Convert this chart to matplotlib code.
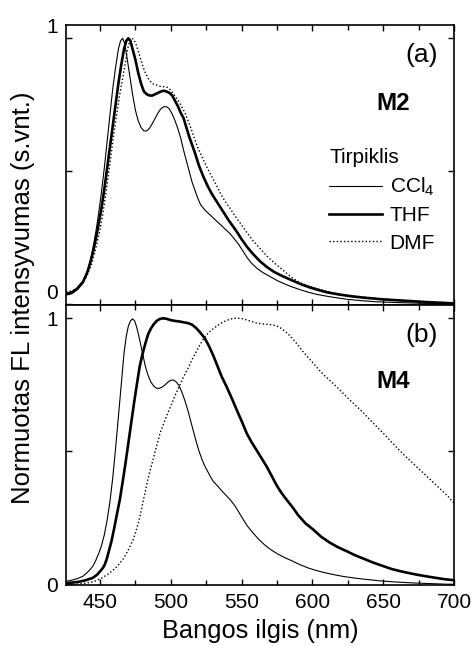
import matplotlib
matplotlib.use("Agg")
import matplotlib.pyplot as plt
import matplotlib.transforms as mtransforms
from matplotlib.ticker import MultipleLocator, FixedLocator

plt.rcParams['font.family'] = ['Liberation Sans', 'DejaVu Sans']
plt.rcParams['mathtext.fontset'] = 'custom'
plt.rcParams['mathtext.rm'] = 'Liberation Sans'
plt.rcParams['mathtext.it'] = 'Liberation Sans:italic'

# (a) M2 spectra, wavelength in nm
m2_ccl4_wl = [426, 430, 434, 438, 441, 443, 445, 447, 449, 451, 453, 455, 457, 459, 461, 463, 464.5, 466,
              467.5, 469, 471, 473, 475, 477, 479, 481, 483, 485, 487, 489, 491, 493, 495, 497, 499, 501,
              503, 505, 507, 509, 511, 513, 515, 517, 519, 521, 524, 527, 530, 533, 536, 539, 542, 545,
              548, 551, 554, 557, 561, 565, 570, 575, 580, 585, 591, 597, 603, 610, 617, 625, 635, 645,
              660, 680, 700]
m2_ccl4 = [0.035, 0.04, 0.055, 0.08, 0.12, 0.16, 0.21, 0.27, 0.34, 0.42, 0.51, 0.61, 0.71, 0.81, 0.89, 0.96,
           0.99, 1.0, 0.98, 0.93, 0.86, 0.79, 0.73, 0.69, 0.665, 0.652, 0.652, 0.662, 0.68, 0.70, 0.72, 0.735,
           0.743, 0.743, 0.735, 0.715, 0.69, 0.66, 0.625, 0.58, 0.54, 0.50, 0.46, 0.43, 0.40, 0.375, 0.355,
           0.34, 0.325, 0.31, 0.295, 0.28, 0.265, 0.245, 0.225, 0.20, 0.175, 0.155, 0.135, 0.12, 0.105, 0.09,
           0.078, 0.067, 0.056, 0.046, 0.038, 0.031, 0.025, 0.019, 0.014, 0.01, 0.007, 0.004, 0.002]

m2_thf_wl = [426, 430, 434, 438, 441, 443, 445, 447, 449, 451, 453, 455, 457, 459, 461, 463, 465, 467,
             468.5, 470, 471.5, 473, 475, 477, 479, 481, 483, 485, 487, 489, 491, 493, 495, 497, 499, 501,
             503, 505, 507, 509, 511, 513, 515, 517, 520, 523, 526, 529, 532, 535, 538, 541, 544, 547, 550,
             554, 558, 563, 568, 573, 579, 585, 591, 597, 603, 610, 618, 627, 637, 650, 662, 680, 700]
m2_thf = [0.04, 0.045, 0.06, 0.085, 0.12, 0.155, 0.195, 0.245, 0.30, 0.36, 0.43, 0.51, 0.59, 0.67, 0.75, 0.83,
          0.90, 0.96, 0.99, 1.0, 0.99, 0.96, 0.92, 0.87, 0.83, 0.80, 0.79, 0.785, 0.785, 0.79, 0.795, 0.80,
          0.803, 0.80, 0.795, 0.785, 0.765, 0.745, 0.72, 0.70, 0.665, 0.63, 0.60, 0.57, 0.52, 0.48, 0.445,
          0.415, 0.39, 0.365, 0.34, 0.315, 0.293, 0.27, 0.245, 0.215, 0.19, 0.162, 0.14, 0.122, 0.106, 0.092,
          0.078, 0.066, 0.056, 0.046, 0.038, 0.031, 0.025, 0.019, 0.015, 0.009, 0.004]

m2_dmf_wl = [426, 430, 434, 438, 441, 444, 447, 450, 452, 454, 456, 458, 460, 462, 464, 466, 468, 469.5,
             471, 472.5, 474, 476, 478, 480, 482, 484, 486, 488, 490, 492, 494, 496, 498, 500, 502, 504, 506,
             508, 510, 513, 516, 519, 523, 526, 529, 532, 535, 538, 542, 545, 549, 553, 558, 563, 568, 574,
             580, 585, 591, 597, 603, 609, 615, 623, 632, 641, 650, 660, 670, 685, 700]
m2_dmf = [0.05, 0.05, 0.06, 0.08, 0.11, 0.15, 0.21, 0.28, 0.34, 0.41, 0.49, 0.57, 0.65, 0.72, 0.79, 0.85,
          0.91, 0.96, 0.99, 1.0, 0.995, 0.97, 0.935, 0.90, 0.87, 0.85, 0.835, 0.827, 0.824, 0.82, 0.818, 0.818,
          0.815, 0.805, 0.79, 0.775, 0.76, 0.74, 0.72, 0.68, 0.635, 0.59, 0.543, 0.51, 0.48, 0.45, 0.418, 0.39,
          0.36, 0.335, 0.306, 0.275, 0.24, 0.21, 0.181, 0.152, 0.125, 0.103, 0.082, 0.07, 0.06, 0.051, 0.043,
          0.036, 0.03, 0.025, 0.02, 0.016, 0.012, 0.008, 0.004]

# (b) M4 spectra
m4_ccl4_wl = [426, 430, 434, 438, 441, 443, 445, 447, 449, 451, 453, 455, 457, 459, 461, 462.5, 464,
              465.5, 467, 468.5, 470, 471.5, 473, 474.5, 476, 478, 480, 482, 484, 486, 488, 490, 492, 494,
              496, 498, 500, 502, 504, 506, 508, 510, 512, 514, 516, 518, 520, 522, 524, 526, 528, 530, 533,
              536, 539, 542, 545, 548, 551, 554, 558, 562, 566, 570, 575, 580, 585, 591, 597, 603, 609, 615,
              622, 630, 638, 647, 657, 670, 685, 700]
m4_ccl4 = [0.012, 0.016, 0.022, 0.031, 0.045, 0.056, 0.069, 0.09, 0.115, 0.145, 0.185, 0.24, 0.31, 0.40, 0.51,
           0.60, 0.69, 0.78, 0.87, 0.93, 0.97, 0.99, 0.998, 0.99, 0.965, 0.92, 0.87, 0.82, 0.785, 0.76, 0.745,
           0.737, 0.737, 0.742, 0.75, 0.76, 0.767, 0.768, 0.76, 0.745, 0.72, 0.69, 0.655, 0.615, 0.575, 0.535,
           0.50, 0.47, 0.445, 0.425, 0.405, 0.387, 0.37, 0.352, 0.335, 0.318, 0.298, 0.272, 0.245, 0.22, 0.194,
           0.17, 0.15, 0.133, 0.116, 0.102, 0.09, 0.075, 0.062, 0.052, 0.044, 0.037, 0.03, 0.024, 0.019, 0.014,
           0.01, 0.006, 0.003, 0.0]

m4_thf_wl = [426, 430, 435, 440, 445, 448, 451, 453, 454.7, 456.5, 458, 460, 462, 464, 466, 468, 470,
             472, 474, 476, 478, 480, 482, 484, 486, 488, 490, 492, 494.5, 497, 500, 503, 506, 509, 512,
             515, 518, 521, 524, 527, 530, 533, 536, 539.4, 543, 547, 550.5, 553.6, 557, 560.5, 564, 567.7,
             571, 575, 578, 581.8, 586, 590, 595, 600.6, 606, 612, 618, 624.2, 630, 637, 643, 650, 656, 662,
             668, 673.6, 680, 687, 693, 700]
m4_thf = [0.005, 0.007, 0.01, 0.016, 0.025, 0.037, 0.055, 0.07, 0.094, 0.13, 0.16, 0.21, 0.265, 0.318, 0.385,
          0.455, 0.53, 0.605, 0.68, 0.75, 0.818, 0.865, 0.905, 0.94, 0.962, 0.978, 0.99, 0.997, 1.0, 0.998,
          0.993, 0.99, 0.988, 0.985, 0.982, 0.976, 0.963, 0.945, 0.925, 0.895, 0.86, 0.82, 0.78, 0.743, 0.70,
          0.65, 0.608, 0.568, 0.535, 0.505, 0.475, 0.443, 0.41, 0.37, 0.345, 0.318, 0.29, 0.26, 0.23, 0.206,
          0.18, 0.158, 0.14, 0.125, 0.11, 0.095, 0.082, 0.069, 0.058, 0.05, 0.043, 0.037, 0.031, 0.025, 0.02,
          0.016]

m4_dmf_wl = [426, 435, 440, 445, 450, 453, 456, 459, 461.8, 464, 467, 470, 473.5, 476, 478, 480, 482,
             484, 486, 488, 490, 492.4, 495, 497, 500, 503, 506, 509, 512, 515, 518, 521, 524, 527, 530,
             533, 536, 539, 542, 545, 548, 551, 554, 557, 560, 563, 566, 569, 572, 575, 578, 581, 584, 587,
             590, 593, 596, 600, 604, 608, 612, 616, 620, 625, 630, 635, 640, 645, 650, 655, 660, 665, 670,
             675, 680, 685, 690, 695, 700]
m4_dmf = [0.0, 0.002, 0.005, 0.01, 0.02, 0.03, 0.04, 0.053, 0.066, 0.08, 0.1, 0.13, 0.169, 0.21, 0.25, 0.3,
          0.35, 0.40, 0.44, 0.48, 0.52, 0.568, 0.605, 0.632, 0.67, 0.71, 0.745, 0.78, 0.81, 0.845, 0.875, 0.905,
          0.93, 0.948, 0.961, 0.973, 0.983, 0.991, 0.997, 1.0, 1.0, 0.998, 0.993, 0.988, 0.983, 0.98, 0.978,
          0.977, 0.975, 0.97, 0.962, 0.95, 0.935, 0.917, 0.898, 0.877, 0.858, 0.835, 0.81, 0.787, 0.768, 0.748,
          0.727, 0.70, 0.675, 0.65, 0.622, 0.595, 0.568, 0.54, 0.512, 0.485, 0.46, 0.435, 0.41, 0.385, 0.36,
          0.335, 0.305]

panel_labels = ['(a)', '(b)']
molecules = ['M2', 'M4']
solvents = ['CCl$_4$', 'THF', 'DMF']
x_ticks = [450, 500, 550, 600, 650, 700]

fig = plt.figure(figsize=(4.73, 6.46), dpi=100)
ax1 = fig.add_axes([0.1395, 0.5279, 0.8205, 0.4334])
ax2 = fig.add_axes([0.1395, 0.0944, 0.8205, 0.4335])

styles = [dict(color='black', lw=0.8, ls='-'),
          dict(color='black', lw=1.9, ls='-'),
          dict(color='black', lw=1.0, ls=(0, (1, 1.6)))]

data = [
    [(m2_ccl4_wl, m2_ccl4), (m2_thf_wl, m2_thf), (m2_dmf_wl, m2_dmf)],
    [(m4_ccl4_wl, m4_ccl4), (m4_thf_wl, m4_thf), (m4_dmf_wl, m4_dmf)],
]
label_y = [0.893, 0.893]
mol_y = [0.721, 0.725]

for i, ax in enumerate([ax1, ax2]):
    lines = []
    for (wl, val), st, name in zip(data[i], styles, solvents):
        ln, = ax.plot(wl, val, label=name, **st)
        lines.append(ln)
    ax.set_xlim(426, 700)
    ax.set_ylim(-0.002, 1.05)
    ax.xaxis.set_major_locator(FixedLocator(x_ticks))
    ax.xaxis.set_minor_locator(MultipleLocator(25))
    ax.yaxis.set_major_locator(FixedLocator([0, 0.5, 1]))
    ax.set_yticklabels(['0', '', '1'])
    ax.tick_params(which='both', direction='in', top=True, right=True, width=1.0, labelsize=15)
    ax.tick_params(axis='x', pad=6)
    ax.tick_params(axis='y', pad=6)
    ax.tick_params(which='major', length=4.5)
    ax.tick_params(which='minor', length=3.5)
    for sp in ax.spines.values():
        sp.set_linewidth(1.2)
    ax.text(0.9175, label_y[i], panel_labels[i], transform=ax.transAxes,
            fontsize=19, ha='center', va='center')
    ax.text(0.843, mol_y[i], molecules[i], transform=ax.transAxes,
            fontsize=17.5, fontweight='bold', ha='center', va='center')
    if i == 0:
        leg = ax.legend(handles=lines, title='Tirpiklis', loc='upper left',
                        bbox_to_anchor=(0.678, 0.559), frameon=False, fontsize=15,
                        title_fontsize=15, handlelength=2.55, handletextpad=0.35,
                        labelspacing=0.4, borderpad=0, borderaxespad=0, alignment='left')

ax1.tick_params(labelbottom=False)

# top panel: tick labels sit above their ticks in the original
shift = mtransforms.ScaledTranslation(0, 13 / 100, fig.dpi_scale_trans)
for lab in ax1.get_yticklabels():
    lab.set_transform(lab.get_transform() + shift)

fig.text(0.0486, 0.5395, 'Normuotas FL intensyvumas (s.vnt.)', rotation=90,
         ha='center', va='center', fontsize=18.5)
fig.text(0.55, 0.004, 'Bangos ilgis (nm)', ha='center', va='bottom', fontsize=18.3)

fig.savefig('out.png', dpi=100)
